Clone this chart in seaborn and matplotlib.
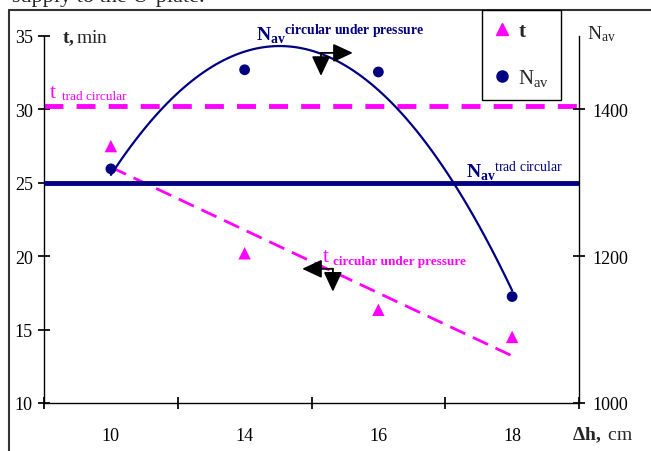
import matplotlib
matplotlib.use("Agg")
import matplotlib.pyplot as plt
from matplotlib.lines import Line2D
import numpy as np
import seaborn as sns

# data
dh_labels = ["10", "14", "16", "18"]
t_values = [27.5, 20.2, 16.35, 14.5]          # t, min (left axis)
n_values = [1319, 1454, 1451, 1145]           # N_av (right axis)
t_trad_circular = 30.2
n_trad_circular = 1300

MAGENTA = "#ff00ff"
NAVY = "#000080"
W, H = 651, 452


def fx(x):
    return x / W


def fy(y):
    return 1 - y / H


sns.set_theme(style="white")
plt.rcParams["font.family"] = ["Liberation Serif", "DejaVu Serif"]
plt.rcParams["mathtext.fontset"] = "custom"
plt.rcParams["mathtext.rm"] = "Liberation Serif"
plt.rcParams["mathtext.bf"] = "Liberation Serif:bold"
plt.rcParams["mathtext.it"] = "Liberation Serif:italic"

pos = np.arange(len(dh_labels))

fig = plt.figure(figsize=(W / 100, H / 100), dpi=100)
ax = fig.add_axes([fx(44), fy(404), (579 - 44) / W, (404 - 37) / H])
ax2 = ax.twinx()

# t series: points, linear trend and traditional level
ax.axhline(t_trad_circular, color=MAGENTA, lw=3.5, dashes=(3.9, 2.7))
sns.regplot(x=pos, y=t_values, ax=ax, scatter=False, ci=None, truncate=True,
            line_kws=dict(color=MAGENTA, lw=2, dashes=(6, 3)))
sns.scatterplot(x=pos, y=t_values, ax=ax, marker="^", color=MAGENTA,
                s=80, edgecolor="none", zorder=4)

# N_av series: points, quadratic trend and traditional level
ax2.axhline(n_trad_circular, color=NAVY, lw=3.5)
sns.regplot(x=pos, y=n_values, ax=ax2, order=2, scatter=False, ci=None,
            truncate=True, line_kws=dict(color=NAVY, lw=1.6))
sns.scatterplot(x=pos, y=n_values, ax=ax2, marker="o", color=NAVY,
                s=60, edgecolor="none", zorder=4)

# axes
ax.set_xlim(-0.5, len(dh_labels) - 0.5)
ax.set_ylim(10, 35)
ax2.set_ylim(1000, 1500)
ax.set_yticks([10, 15, 20, 25, 30, 35])
ax2.set_yticks([1000, 1200, 1400])
ax.set_xticks(np.arange(-0.5, len(dh_labels), 1.0))
ax.set_xticklabels([])
ax.set_xticks(pos, minor=True)
ax.set_xticklabels(dh_labels, minor=True)
ax.set_xlabel("")
ax.set_ylabel("")
ax2.set_ylabel("")

for s in ["top", "right"]:
    ax.spines[s].set_visible(False)
for s in ["top", "left", "bottom"]:
    ax2.spines[s].set_visible(False)
for a in (ax, ax2):
    for sp in a.spines.values():
        sp.set_color("black")
        sp.set_linewidth(1)

ax.tick_params(axis="x", which="major", direction="inout", length=8,
               bottom=True, color="black")
ax.tick_params(axis="x", which="minor", length=0, pad=17, labelsize=13,
               labelcolor="black")
ax.tick_params(axis="y", direction="inout", length=8, left=True, pad=4,
               labelsize=13, color="black", labelcolor="black")
ax2.tick_params(axis="y", direction="inout", length=8, right=True, pad=6,
                labelsize=13, color="black", labelcolor="black")

# axis titles
fig.text(fx(62), fy(43), r"$\mathbf{t,}$min", fontsize=14, va="baseline")
fig.text(fx(587), fy(39), r"N$_{\mathrm{av}}$", fontsize=14, va="baseline")
fig.text(fx(572), fy(440), r"$\mathbf{\Delta h,}$ cm", fontsize=14,
         va="baseline")

# curve labels
fig.text(fx(50), fy(98), "t", fontsize=16, color=MAGENTA, va="baseline")
fig.text(fx(62), fy(100), "trad circular", fontsize=9.5, color=MAGENTA,
         va="baseline")
fig.text(fx(323), fy(262), "t", fontsize=16, color=MAGENTA, va="baseline")
fig.text(fx(333), fy(265), "circular under pressure", fontsize=9.5,
         fontweight="bold", color=MAGENTA, va="baseline")
fig.text(fx(256), fy(40),
         r"${\mathbf{N}_{\mathbf{av}}}^{\mathbf{circular\ under\ pressure}}$",
         fontsize=14, color=NAVY, va="baseline")
fig.text(fx(466), fy(177),
         r"${\mathbf{N}_{\mathbf{av}}}^{\mathrm{trad\ circular}}$",
         fontsize=14, color=NAVY, va="baseline")

# direction arrows
arrow = dict(arrowstyle="-|>,head_length=0.6,head_width=0.28",
             mutation_scale=20, lw=1.3, color="black",
             shrinkA=0, shrinkB=0)
for corner, tips in [((1.571, 33.85), [(1.809, 33.85), (1.571, 32.28)]),
                     ((1.660, 19.14), [(1.430, 19.14), (1.660, 17.58)])]:
    for tip in tips:
        ax2.annotate("", xy=tip, xytext=corner, xycoords=ax.transData,
                     textcoords=ax.transData, arrowprops=arrow,
                     annotation_clip=False)

# legend
handles = [Line2D([], [], marker="^", color=MAGENTA, ls="none", markersize=9),
           Line2D([], [], marker="o", color=NAVY, ls="none", markersize=8)]
leg = fig.legend(handles, [r"$\mathbf{t}$", r"N$_{\mathrm{av}}$"],
                 loc="upper left", bbox_to_anchor=(fx(482), fy(11)),
                 fontsize=15, frameon=True, fancybox=False,
                 edgecolor="black", handlelength=0.8, handletextpad=0.4,
                 labelspacing=1.25, borderpad=0.55, borderaxespad=0)
leg.get_frame().set_linewidth(1)
leg.get_frame().set_alpha(1)

# page frame and clipped text from the document above
fig.add_artist(Line2D([fx(9), fx(9)], [0, fy(11)], color="#333333", lw=1.5,
                      transform=fig.transFigure))
fig.add_artist(Line2D([fx(9), 1], [fy(11), fy(11)], color="#333333", lw=1.5,
                      transform=fig.transFigure))
fig.text(fx(12), fy(2), "supply to the U-plate.", fontsize=16, va="baseline")

fig.savefig("out.png", dpi=100)
